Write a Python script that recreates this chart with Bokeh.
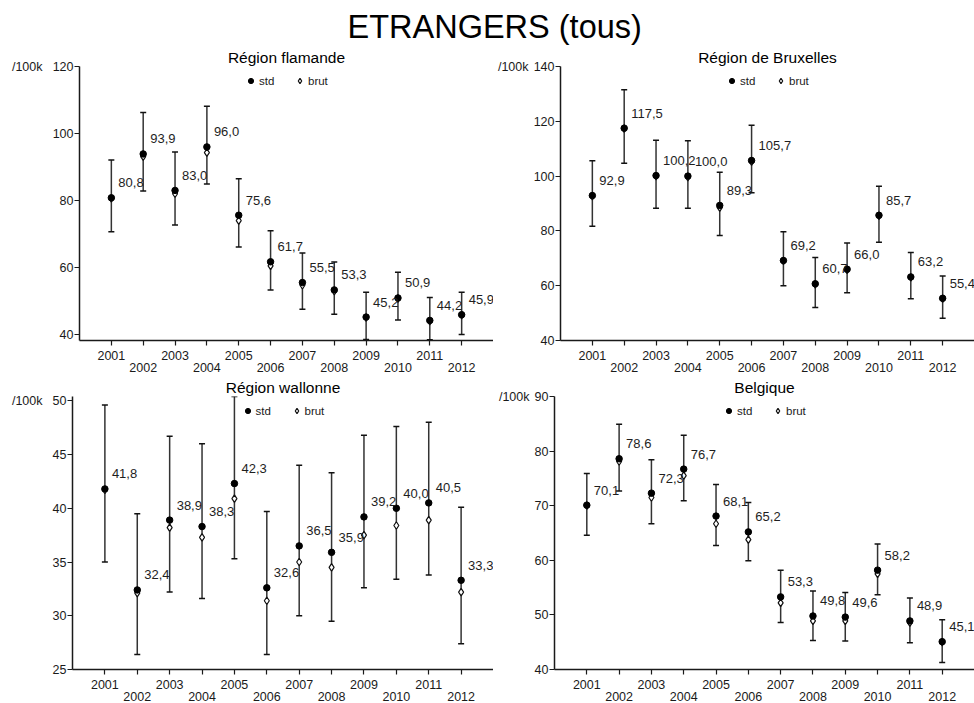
from bokeh.plotting import figure
from bokeh.models import (ColumnDataSource, Whisker, TeeHead, FixedTicker, LinearAxis,
                          Legend, LegendItem)
from bokeh.layouts import column, row
from bokeh.core.properties import value
from bokeh.embed import file_html
from bokeh.resources import INLINE

FONT = "Liberation Sans"
INK = "#1a1a1a"
TICK_FONT = "12.5px"

years = [2001, 2002, 2003, 2004, 2005, 2006, 2007, 2008, 2009, 2010, 2011, 2012]

# Région flamande
fla_std = [80.8, 93.9, 83.0, 96.0, 75.6, 61.7, 55.5, 53.3, 45.2, 50.9, 44.2, 45.9]
fla_brut = [80.6, 93.1, 82.0, 94.3, 74.0, 60.5, 54.7, 52.9, 45.0, 50.7, 44.0, 45.8]
fla_upper = [92.1, 106.3, 94.5, 108.1, 86.5, 71.0, 64.3, 61.6, 52.6, 58.6, 51.0, 52.6]
fla_lower = [70.7, 82.8, 72.7, 84.9, 66.1, 53.3, 47.5, 46.0, 38.5, 44.3, 38.4, 40.0]

# Région de Bruxelles
bru_std = [92.9, 117.5, 100.2, 100.0, 89.3, 105.7, 69.2, 60.7, 66.0, 85.7, 63.2, 55.4]
bru_brut = [92.7, 117.3, 100.0, 99.6, 88.5, 105.3, 69.0, 60.5, 65.8, 85.5, 63.0, 55.3]
bru_upper = [105.6, 131.5, 113.1, 112.9, 101.4, 118.6, 79.7, 70.3, 75.6, 96.3, 72.1, 63.5]
bru_lower = [81.7, 104.7, 88.3, 88.3, 78.3, 93.9, 60.0, 52.0, 57.4, 75.9, 55.2, 48.1]

# Région wallonne
wal_std = [41.8, 32.4, 38.9, 38.3, 42.3, 32.6, 36.5, 35.9, 39.2, 40.0, 40.5, 33.3]
wal_brut = [41.7, 32.1, 38.2, 37.3, 40.9, 31.4, 35.0, 34.5, 37.5, 38.4, 38.9, 32.2]
wal_upper = [49.6, 39.5, 46.7, 46.0, 50.4, 39.7, 44.0, 43.3, 46.8, 47.6, 48.0, 40.1]
wal_lower = [35.0, 26.4, 32.2, 31.6, 35.3, 26.4, 30.0, 29.5, 32.6, 33.4, 33.8, 27.4]

# Belgique
bel_std = [70.1, 78.6, 72.3, 76.7, 68.1, 65.2, 53.3, 49.8, 49.6, 58.2, 48.9, 45.1]
bel_brut = [70.0, 78.1, 71.5, 75.5, 66.7, 63.8, 52.2, 48.9, 48.9, 57.5, 48.6, 45.0]
bel_upper = [75.9, 84.9, 78.4, 82.9, 73.9, 70.6, 58.2, 54.4, 54.1, 63.0, 53.1, 49.1]
bel_lower = [64.6, 72.7, 66.7, 70.9, 62.7, 59.9, 48.6, 45.3, 45.2, 53.7, 44.9, 41.3]

fla_ticks = [40, 60, 80, 100, 120]
bru_ticks = [40, 60, 80, 100, 120, 140]
wal_ticks = [25, 30, 35, 40, 45, 50]
bel_ticks = [40, 50, 60, 70, 80, 90]

odd_years = [y for y in years if y % 2 == 1]
even_years = [y for y in years if y % 2 == 0]


def style_axis(ax, tick_out, standoff):
    ax.axis_line_color = INK
    ax.axis_line_width = 1.5
    ax.major_tick_line_color = INK
    ax.major_tick_line_width = 1.2
    ax.major_tick_out = tick_out
    ax.major_tick_in = 0
    ax.minor_tick_line_color = None
    ax.major_label_standoff = standoff
    ax.major_label_text_font = FONT
    ax.major_label_text_font_size = TICK_FONT
    ax.major_label_text_color = INK


def bare_axis(ticks, overrides, standoff):
    return LinearAxis(ticker=FixedTicker(ticks=ticks),
                      major_label_overrides=overrides,
                      axis_line_color=None, major_tick_line_color=None,
                      minor_tick_line_color=None, major_tick_out=0, major_tick_in=0,
                      major_label_standoff=standoff, major_label_text_font=FONT,
                      major_label_text_font_size=TICK_FONT, major_label_text_color=INK)


def panel(title, std, brut, upper, lower, y_range, yticks, width, height,
          border_left, border_top, border_bottom, unit_gap):
    p = figure(width=width, height=height, x_range=(2000, 2013), y_range=y_range,
               output_backend="svg", toolbar_location=None, title=title,
               min_border_left=border_left, min_border_right=0,
               min_border_top=border_top, min_border_bottom=border_bottom)
    p.outline_line_color = None
    p.grid.visible = False
    p.background_fill_color = "white"

    p.title.text_font = FONT
    p.title.text_font_size = "15.5px"
    p.title.text_font_style = "normal"
    p.title.text_color = "black"
    p.title.align = "center"
    p.title.standoff = 1

    # year axis: a tick every year, odd years labelled on the first row
    xa = p.xaxis[0]
    xa.ticker = FixedTicker(ticks=years)
    xa.major_label_overrides = {y: "" for y in even_years}
    style_axis(xa, 5, 5)
    # even years on a second, staggered row
    p.add_layout(bare_axis(even_years, {}, 0), "below")

    ya = p.yaxis[0]
    ya.ticker = FixedTicker(ticks=yticks)
    style_axis(ya, 5, 1)
    # unit note next to the top of the value axis
    p.add_layout(bare_axis([yticks[-1]], {yticks[-1]: "/100k"}, unit_gap), "left")

    src = ColumnDataSource(dict(
        x=years, std=std, brut=brut, upper=upper, lower=lower,
        lab=[f"{v:.1f}".replace(".", ",") for v in std],
    ))

    whisk = Whisker(source=src, base="x", upper="upper", lower="lower",
                    line_color="#333333", line_width=1.5,
                    upper_head=TeeHead(size=6, line_color="#111111", line_width=1.5),
                    lower_head=TeeHead(size=6, line_color="#111111", line_width=1.5))
    p.add_layout(whisk)

    r_brut = p.scatter("x", "brut", source=src, marker="diamond", size=7.5,
                       fill_color="white", line_color="#111111", line_width=1.2)
    r_std = p.scatter("x", "std", source=src, marker="circle", size=6.5,
                      fill_color="black", line_color="black")

    p.text("x", "std", text="lab", source=src, x_offset=7, y_offset=-15,
           text_align="left", text_baseline="middle",
           text_font=value(FONT), text_font_size="13px", text_color="#1e1e1e")

    legend = Legend(items=[LegendItem(label="std", renderers=[r_std]),
                           LegendItem(label="brut", renderers=[r_brut])],
                    location="top_center", orientation="horizontal",
                    glyph_width=13, glyph_height=13, label_height=13,
                    label_standoff=2, spacing=14, margin=4, padding=4,
                    label_text_font=FONT, label_text_font_size="11.5px",
                    label_text_color=INK,
                    background_fill_alpha=0, border_line_alpha=0)
    p.add_layout(legend)
    return p


header = figure(width=974, height=46, x_range=(0, 1), y_range=(0, 1),
                title="ETRANGERS (tous)", output_backend="svg", toolbar_location=None,
                min_border_top=44, min_border_bottom=0, min_border_left=0,
                min_border_right=0)
header.axis.visible = False
header.grid.visible = False
header.outline_line_color = None
header.title.text_font = FONT
header.title.text_font_size = "32.5px"
header.title.text_font_style = "normal"
header.title.text_color = "black"
header.title.align = "left"
header.title.offset = 347
header.title.standoff = 0

p1 = panel("Région flamande", fla_std, fla_brut, fla_upper, fla_lower,
           (38.2, 120), fla_ticks, 493, 330, 79, 20, 36, 7)
p2 = panel("Région de Bruxelles", bru_std, bru_brut, bru_upper, bru_lower,
           (40, 140), bru_ticks, 481, 330, 67, 20, 36, 2)
p3 = panel("Région wallonne", wal_std, wal_brut, wal_upper, wal_lower,
           (25, 50.4), wal_ticks, 493, 327, 72, 20, 34, 7)
p4 = panel("Belgique", bel_std, bel_brut, bel_upper, bel_lower,
           (40, 90), bel_ticks, 481, 327, 61, 20, 34, 2)

layout = column(header, row(p1, p2, spacing=0), row(p3, p4, spacing=0), spacing=0)

open("out.html", "w").write(file_html(layout, INLINE))
